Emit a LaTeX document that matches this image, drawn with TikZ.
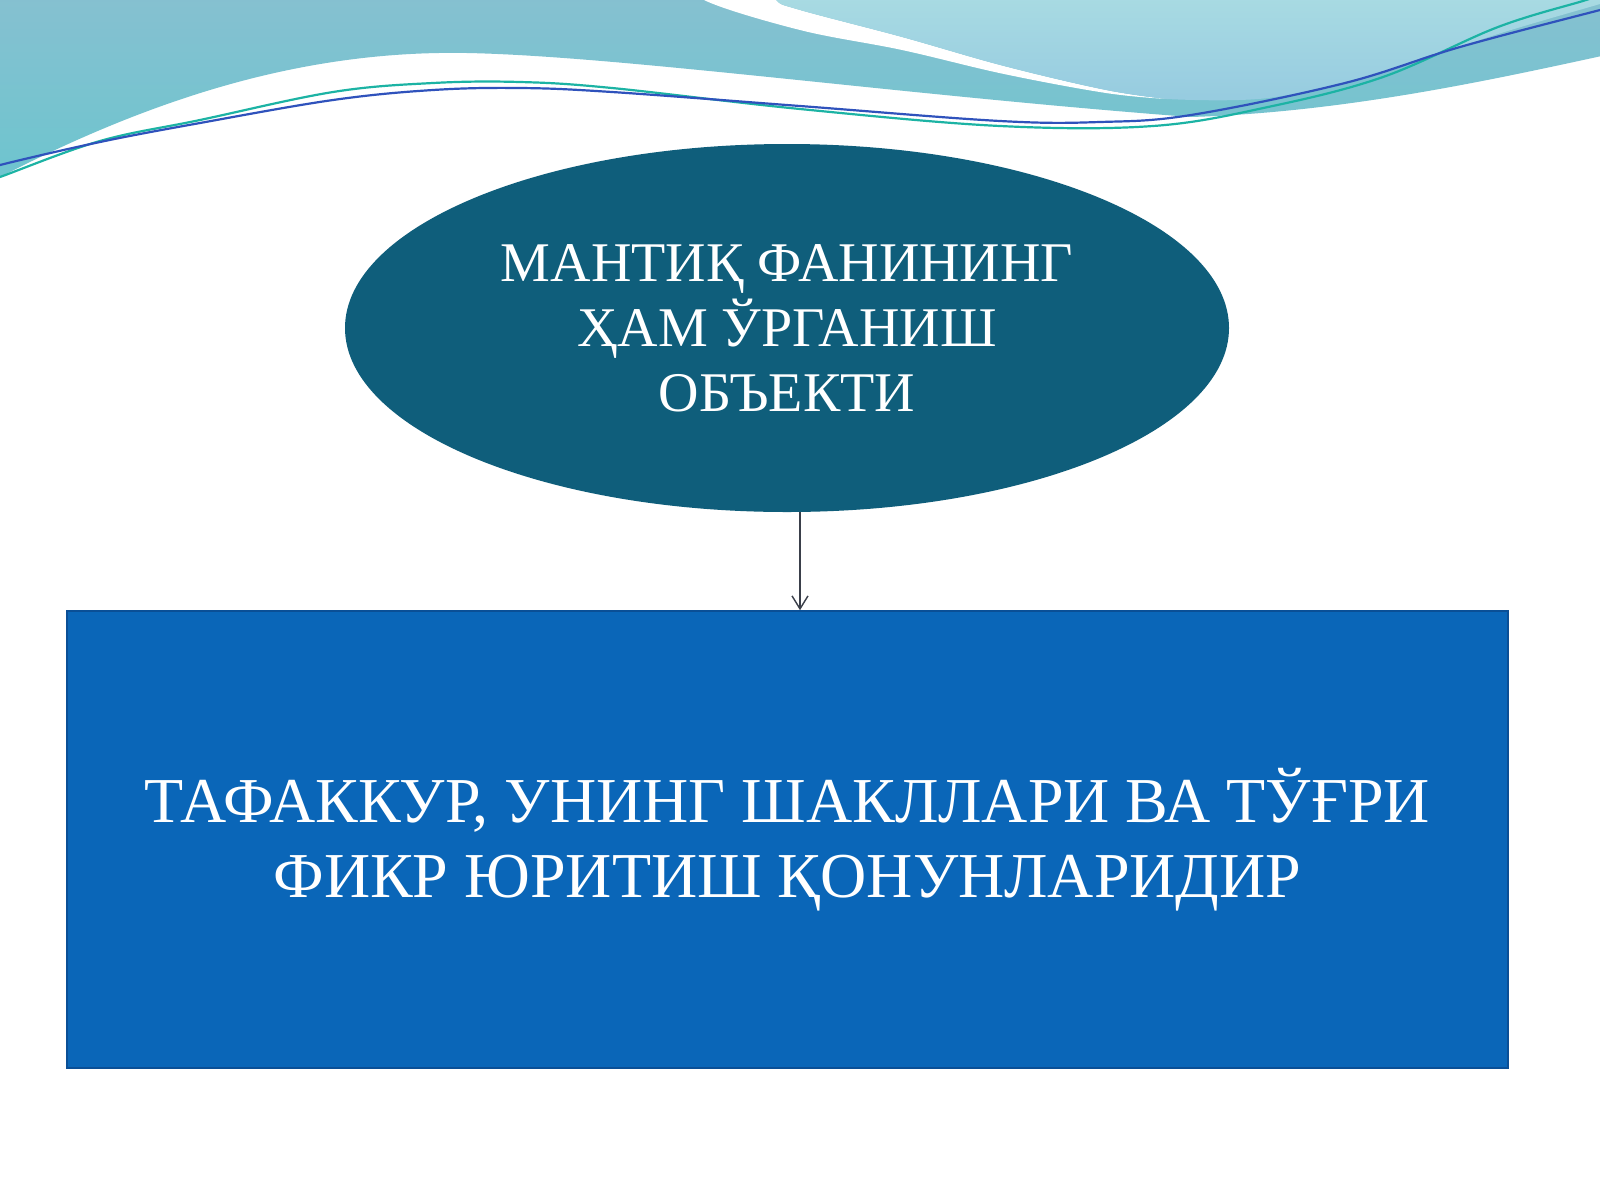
\documentclass[tikz,border=0pt]{standalone}
\usepackage{fontspec}
\setmainfont{Liberation Serif}
\usetikzlibrary{shapes.geometric,arrows.meta}
\definecolor{wavemid}{HTML}{88C0D0}
\definecolor{wavemidlow}{HTML}{6CC5CF}
\definecolor{wavelight}{HTML}{ABDDE3}
\definecolor{wavelightlow}{HTML}{96CBE0}
\definecolor{lineteal}{HTML}{1CB3A4}
\definecolor{lineblue}{HTML}{2F52BC}
\definecolor{ellcol}{HTML}{0F5E7B}
\definecolor{rectcol}{HTML}{0A66B8}
\definecolor{rectedge}{HTML}{0A4F96}
\definecolor{arrcol}{HTML}{3A3F4A}
\tikzset{
  ellipsenode/.style={ellipse, fill=ellcol, minimum width=442pt, minimum height=184pt,
    inner sep=0pt, text=white, align=center, font=\fontsize{28}{32.5}\selectfont},
  rectnode/.style={rectangle, fill=rectcol, draw=rectedge, line width=0.8pt,
    minimum width=720.5pt, minimum height=228.5pt, inner sep=0pt, text=white,
    align=center, font=\fontsize{32}{37.5}\selectfont},
  conn/.style={draw=arrcol, line width=0.7pt, -{Straight Barb[length=6.5pt,width=8pt]}},
  wline/.style={line width=1.1pt}
}
\begin{document}
\begin{tikzpicture}[x=0.5pt,y=-0.5pt]
\useasboundingbox (0,0) rectangle (1600,1200);
\fill[white] (-20,-20) rectangle (1620,1220);
% medium teal wave
\shade[top color=wavemid, bottom color=wavemidlow]
  (-20,-20) -- (1620,-20) -- (1620,52)
  .. controls (1500,78) and (1350,112) .. (1191,117)
  .. controls (900,95) and (620,56) .. (467,53)
  .. controls (300,50) and (150,100) .. (0,177)
  -- (-20,190) -- cycle;
% white streak
\fill[white]
  plot[smooth, tension=0.6] coordinates {(700,-20) (704,0) (800,30) (902,50) (1004,74) (1106,93) (1167,99)}
  -- plot[smooth, tension=0.6] coordinates {(1167,99) (1106,90) (1004,66) (902,37) (800,10) (776,0) (770,-20)}
  -- cycle;
% light upper-right region
\shade[top color=wavelight, bottom color=wavelightlow]
  plot[smooth, tension=0.6] coordinates {(770,-20) (776,0) (800,10) (902,37) (1004,66) (1106,90) (1167,99)}
  -- plot[smooth, tension=0.6] coordinates {(1167,99) (1268,98) (1383,72) (1498,34) (1600,4) (1620,-2)}
  -- (1620,-20) -- cycle;
% thin lines
\draw[wline, lineteal] plot[smooth, tension=0.6] coordinates {(-20,184) (0,177) (100,141) (200,120) (333,92) (433,83) (520,82) (612,88) (800,109) (1000,126) (1153,126) (1268,107) (1383,77) (1498,27) (1586,0) (1600,-6)};
\draw[wline, lineblue] plot[smooth, tension=0.6] coordinates {(-20,172) (0,165) (100,142) (200,123) (333,100) (433,90) (520,88) (612,92) (800,106) (1000,121) (1100,122) (1191,115) (1345,83) (1460,47) (1600,10) (1620,5)};
% nodes
\node[ellipsenode] (e) at (787,328) {МАНТИҚ ФАНИНИНГ\\ҲАМ ЎРГАНИШ\\ОБЪЕКТИ};
\node[rectnode] (r) at (787.5,839.5) {ТАФАККУР, УНИНГ ШАКЛЛАРИ ВА ТЎҒРИ\\ФИКР ЮРИТИШ ҚОНУНЛАРИДИР};
\coordinate (ax) at (800,0);
\draw[conn] (ax |- e.south) -- (ax |- r.north);
\end{tikzpicture}
\end{document}
